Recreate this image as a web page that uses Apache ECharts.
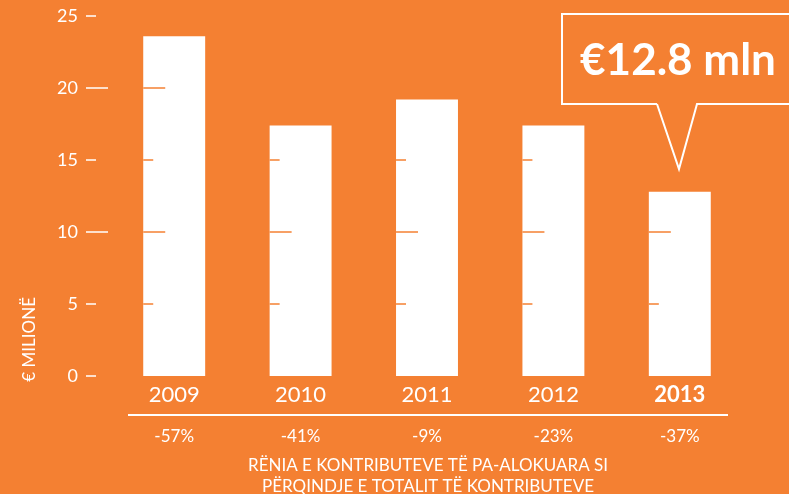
<!DOCTYPE html>
<html>
<head>
<meta charset="utf-8">
<script src="https://cdn.jsdelivr.net/npm/echarts@6/dist/echarts.min.js"></script>
<style>
  html, body { margin: 0; padding: 0; background: #F48032; }
  #chart { width: 789px; height: 494px; }
</style>
</head>
<body>
<div id="chart"></div>
<script>
var years = ["2009", "2010", "2011", "2012", "2013"];
var values = [23.6, 17.4, 19.2, 17.4, 12.8];
var changes = ["-57%", "-41%", "-9%", "-23%", "-37%"];
var yTicks = [0, 5, 10, 15, 20, 25];
var longTicks = [10, 20];

var bg = "#F48032";
var font = "Lato";

// small orange marks on the bars at each tick value
var markData = [];
values.forEach(function (v, i) {
  yTicks.forEach(function (t) {
    if (t > 0 && t < v) markData.push([i, t]);
  });
});

var chart = echarts.init(document.getElementById("chart"));

var option = {
  backgroundColor: bg,
  animation: false,
  grid: { left: 111, right: 46, top: 16, bottom: 118 },
  xAxis: [
    {
      type: "category",
      data: years,
      axisLine: { show: false },
      axisTick: { show: false },
      axisLabel: {
        color: "#fff",
        fontFamily: font,
        fontSize: 22,
        margin: 8,
        formatter: function (v, i) {
          return i === years.length - 1 ? "{b|" + v + "}" : v;
        },
        rich: { b: { fontWeight: "bold", fontSize: 22, color: "#fff", fontFamily: font } }
      }
    },
    {
      type: "category",
      position: "bottom",
      offset: 44,
      data: changes,
      axisLine: { show: false },
      axisTick: { show: false },
      axisLabel: { color: "#fff", fontFamily: font, fontSize: 17, margin: 8 }
    }
  ],
  yAxis: [
    {
      type: "value",
      position: "left",
      min: 0,
      max: 25,
      interval: 5,
      offset: 25,
      splitLine: { show: false },
      axisLine: { show: false },
      axisTick: { show: true, inside: true, length: 10, lineStyle: { color: "#fff", width: 1.5 } },
      axisLabel: { color: "#fff", fontFamily: font, fontSize: 18, margin: 8 }
    },
    {
      type: "value",
      position: "left",
      min: 0,
      max: 25,
      interval: 5,
      offset: 25,
      splitLine: { show: false },
      axisLine: { show: false },
      axisLabel: { show: false },
      axisTick: {
        show: true,
        inside: true,
        length: 22,
        customValues: longTicks,
        lineStyle: { color: "#fff", width: 1.5 }
      }
    }
  ],
  series: [
    {
      type: "bar",
      data: values,
      barWidth: "49%",
      itemStyle: { color: "#fff" }
    },
    {
      type: "custom",
      data: markData,
      z: 5,
      renderItem: function (params, api) {
        var p = api.coord([api.value(0), api.value(1)]);
        var band = api.size([1, 0])[0];
        var x0 = p[0] - band * 0.49 / 2;
        var len = longTicks.indexOf(api.value(1)) >= 0 ? 22 : 10;
        return {
          type: "line",
          shape: { x1: x0, y1: p[1], x2: x0 + len, y2: p[1] },
          style: { stroke: bg, lineWidth: 1.5 }
        };
      }
    }
  ],
  graphic: [
    {
      type: "text",
      left: 21,
      top: 297,
      rotation: Math.PI / 2,
      style: { text: "€ MILIONË", fill: "#fff", font: "17px " + font }
    },
    {
      type: "line",
      shape: { x1: 128, y1: 415, x2: 728, y2: 415 },
      style: { stroke: "#fff", lineWidth: 2 }
    },
    {
      type: "text",
      x: 428,
      y: 476,
      style: {
        text: "RËNIA E KONTRIBUTEVE TË PA-ALOKUARA SI\nPËRQINDJE E TOTALIT TË KONTRIBUTEVE",
        fill: "#fff",
        font: "17px " + font,
        align: "center",
        verticalAlign: "middle",
        lineHeight: 21
      }
    },
    {
      type: "polyline",
      shape: {
        points: [[657, 104], [562, 104], [562, 14], [800, 14], [800, 104], [697, 104], [679, 169], [657, 104]]
      },
      style: { stroke: "#fff", lineWidth: 2, fill: null }
    },
    {
      type: "text",
      x: 678,
      y: 61,
      style: {
        text: "€" + values[values.length - 1] + " mln",
        fill: "#fff",
        font: "bold 44px " + font,
        align: "center",
        verticalAlign: "middle"
      }
    }
  ]
};

chart.setOption(option);
</script>
</body>
</html>
